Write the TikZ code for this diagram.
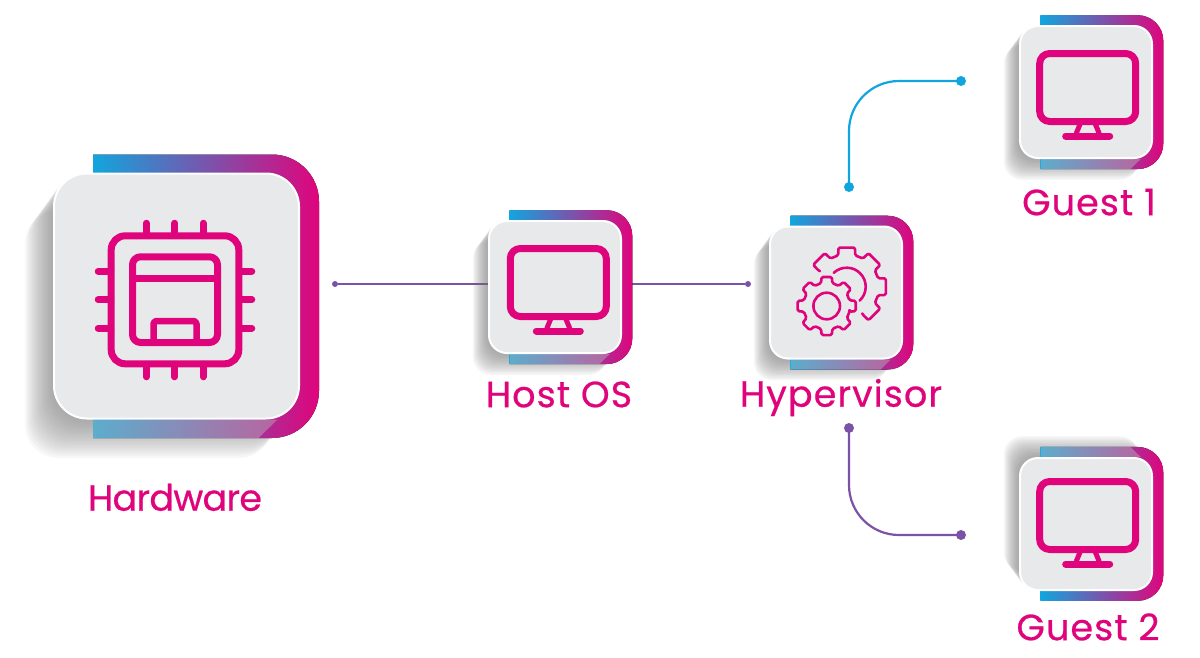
\documentclass[tikz,border=0pt]{standalone}
\usepackage{fontspec}
\setmainfont{Poppins}[LetterSpace=3,FakeBold=0.6]
\usetikzlibrary{positioning}

\definecolor{pinkline}{HTML}{E0047C}
\definecolor{cardgray}{HTML}{E7E9EA}
\definecolor{linecyan}{HTML}{12A5DD}
\definecolor{linepurple}{HTML}{7B52A6}
\definecolor{shadegray}{gray}{.45}
\definecolor{stripgray}{gray}{.72}

\newcommand{\panel}[5][]{% options, node name, x, y, scale
  \pgfmathsetlengthmacro{\cardsize}{247pt*#5-2pt}
  \pgfmathsetlengthmacro{\cardrad}{33pt*#5}
  \begin{scope}[shift={(#3,#4)},scale=#5,#1]
    \foreach \i in {1,...,16}
      \fill[shadegray,opacity=.055,rounded corners=\cardrad]
        (-123.5-1.75*\i,-123.5+2.4*\i) rectangle (123.5-1.75*\i,123.5+2.4*\i);
    \fill[left color=linecyan,middle color=linepurple,right color=pinkline]
      (-83.5,-141.5) -- (142.5-47,-141.5)
      arc[start angle=-90,end angle=0,radius=47] -- (142.5,142-47)
      arc[start angle=0,end angle=90,radius=47] -- (-83.5,142) -- cycle;
    \fill[stripgray,opacity=.45]
      (-83.5,123.5) -- (101,123.5) -- (82,142) -- (-83.5,142) -- cycle;
    \node[card,minimum size=\cardsize,rounded corners=\cardrad] (#2) at (0,0) {};
  \end{scope}
}

\newcommand{\monitor}[2]{% x, y of the screen centre
  \draw[iconline,line width=7pt,rounded corners=10pt] (#1-48,#2-34) rectangle (#1+48,#2+34);
  \draw[iconline,line width=5pt,line cap=butt] (#1-7,#2+35) -- (#1-11.5,#2+46);
  \draw[iconline,line width=5pt,line cap=butt] (#1+7,#2+35) -- (#1+11.5,#2+46);
  \draw[iconline,line width=7pt] (#1-22,#2+48.5) -- (#1+22,#2+48.5);
}

\begin{document}
\begin{tikzpicture}[
  x=1pt, y=-1pt,
  node distance=27pt,
  card/.style={
    rectangle, draw=white, line width=2pt,
    fill=cardgray, outer sep=1pt
  },
  iconline/.style={draw=pinkline, line cap=round, line join=round},
  gearline/.style={iconline, line width=2.6pt, rounded corners=1.5pt},
  caption/.style={
    text=pinkline, inner sep=0pt,
    font=\fontsize{36.5}{40}\selectfont,
    text height=26pt, text depth=8pt
  },
  smalldot/.style={circle, fill=linepurple, inner sep=0pt, minimum size=6pt},
  bigdot/.style={circle, inner sep=0pt, minimum size=10pt},
  wire/.style={line width=1.6pt, draw=linepurple},
  curve/.style={line width=2.2pt, rounded corners=50pt}
]
\useasboundingbox (0,0) rectangle (1200,657);

% =====================================================
% CONNECTORS
% =====================================================

\node[smalldot] (hwdot) at (335,284) {};
\node[smalldot] (hypleft) at (748,284) {};
\draw[wire] (hwdot) -- (hypleft);

\node[bigdot, fill=linecyan] (hyptop) at (849,187) {};
\node[bigdot, fill=linecyan] (guestonedot) at (961,81) {};
\draw[curve, draw=linecyan] (hyptop.center) |- (guestonedot.center);

\node[bigdot, fill=linepurple] (hypbottom) at (849,428) {};
\node[bigdot, fill=linepurple] (guesttwodot) at (961,535) {};
\draw[curve, draw=linepurple] (hypbottom.center) |- (guesttwodot.center);

% =====================================================
% PANELS
% =====================================================

\panel{hardware}{176.5}{296}{1}
\panel{hostos}{555}{287}{.5425}
\panel{hypervisor}{836}{292.5}{.5425}
\panel{guestone}{1086}{92}{.5425}
\panel[yscale=-1]{guesttwo}{1086}{524}{.5425}

% =====================================================
% ICONS
% =====================================================

% chip
\draw[iconline, line width=7pt, rounded corners=14pt] (111.2,235.8) rectangle (238.8,363.8);
\draw[iconline, line width=7pt, rounded corners=8pt] (132.5,256.8) rectangle (217.5,342.5);
\draw[iconline, line width=7pt] (132.5,278.3) -- (217.5,278.3);
\draw[iconline, line width=6.5pt, rounded corners=3pt] (153.5,342.5) |- (196.5,321) -- (196.5,342.5);
\foreach \px in {146.3,174.7,203.3} {
  \draw[iconline, line width=6.5pt] (\px,223) -- (\px,235);
  \draw[iconline, line width=6.5pt] (\px,364) -- (\px,377);
}
\foreach \py in {271.3,299.7,328.3} {
  \draw[iconline, line width=6.5pt] (98,\py) -- (111,\py);
  \draw[iconline, line width=6.5pt] (239,\py) -- (252,\py);
}

% screens
\monitor{558.3}{282.5}
\monitor{1087.7}{87.5}
\monitor{1087.7}{515.5}

% gears
\begin{scope}[shift={(826.7,306)}]
  \draw[gearline] (14:23.5)
    \foreach \a in {0,-45,-90,-135,-180,-225,-270,-315} {
      -- (\a+14:23.5) -- (\a+10:29.5) -- (\a-10:29.5) -- (\a-14:23.5)
    } -- cycle;
  \draw[iconline, line width=2.6pt] (0,0) circle[radius=13.3];
\end{scope}
\begin{scope}[shift={(846.7,286.7)}]
  \draw[gearline] (60:31)
    \foreach \a in {45,0,-45,-90,-135} {
      -- (\a+15:32.5) -- (\a+12:40) -- (\a-12:40) -- (\a-15:32.5)
    } -- (-150:31);
  \draw[iconline, line width=2.6pt] (47:19) arc[start angle=47,end angle=-133,radius=19];
\end{scope}

% =====================================================
% CAPTIONS
% =====================================================

\node[caption, below=65pt of hardware, xshift=-1.5pt] (hardwaretext) {\addfontfeature{LetterSpace=-2}Hardware};
\node[caption, below=of hostos, xshift=4pt] (hostostext) {Host OS};
\node[caption, below=21pt of hypervisor, xshift=5pt] (hypervisortext) {Hypervisor};
\node[caption, below=30pt of guestone, xshift=3pt] (guestonetext) {Guest 1};
\node[caption, below=23pt of guesttwo, xshift=2pt] (guesttwotext) {Guest 2};

\end{tikzpicture}
\end{document}
